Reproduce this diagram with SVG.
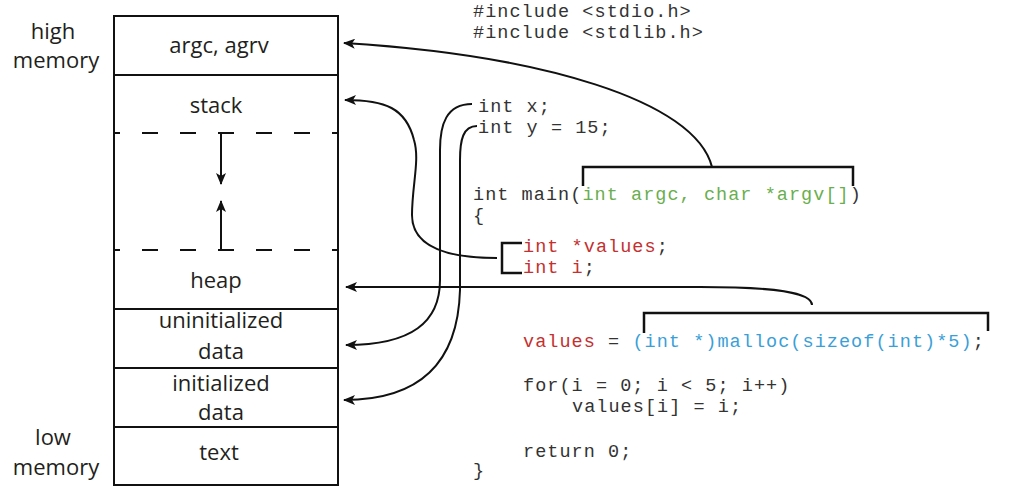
<svg xmlns="http://www.w3.org/2000/svg" width="1016" height="498" viewBox="0 0 1016 498">
<style>
.lbl{font-family:"Open Sans","Liberation Sans",sans-serif;font-size:22px;fill:#231f20;text-anchor:middle}
.code{font-family:"Liberation Mono","DejaVu Sans Mono",monospace;font-size:18.5px;letter-spacing:1.05px;fill:#333;white-space:pre}
.g{fill:#6aae4f}
.r{fill:#c4302f}
.b{fill:#3a9fd8}
.ln{fill:none;stroke:#111;stroke-width:2}
.box{fill:#fff;stroke:#111;stroke-width:2}
.dash{stroke:#111;stroke-width:2;stroke-dasharray:16 22;stroke-dashoffset:10}
.br{fill:none;stroke:#111;stroke-width:2.5}
</style>
<defs>
<marker id="ah" viewBox="0 0 12 10" refX="11" refY="5" markerWidth="12" markerHeight="10" markerUnits="userSpaceOnUse" orient="auto">
<path d="M0,0 L12,5 L0,10 L3,5 Z" fill="#111"/>
</marker>
</defs>
<rect width="1016" height="498" fill="#fff"/>

<g id="side-labels">
<text class="lbl" x="53" y="39">high</text>
<text class="lbl" x="56" y="68">memory</text>
<text class="lbl" x="53" y="445">low</text>
<text class="lbl" x="56" y="475">memory</text>
</g>

<g id="memory">
<rect class="box" x="114" y="16" width="224" height="469"/>
<g id="seg-args"><line class="ln" x1="114" y1="75" x2="338" y2="75"/><text class="lbl" x="219" y="53">argc, agrv</text></g>
<g id="seg-stack"><text class="lbl" x="216" y="113">stack</text><line class="dash" x1="114" y1="133" x2="338" y2="133"/></g>
<g id="seg-free">
<line class="ln" x1="221" y1="133" x2="221" y2="184" marker-end="url(#ah)"/>
<line class="ln" x1="221" y1="250" x2="221" y2="201" marker-end="url(#ah)"/>
</g>
<g id="seg-heap"><line class="dash" x1="114" y1="250" x2="338" y2="250"/><text class="lbl" x="216" y="288">heap</text><line class="ln" x1="114" y1="309" x2="338" y2="309"/></g>
<g id="seg-bss"><text class="lbl" x="221" y="328">uninitialized</text><text class="lbl" x="221" y="359">data</text><line class="ln" x1="114" y1="368" x2="338" y2="368"/></g>
<g id="seg-data"><text class="lbl" x="221" y="391">initialized</text><text class="lbl" x="221" y="420">data</text><line class="ln" x1="114" y1="427" x2="338" y2="427"/></g>
<g id="seg-text"><text class="lbl" x="219" y="460">text</text></g>
</g>

<g id="code">
<text class="code" x="473" y="17">#include &lt;stdio.h&gt;</text>
<text class="code" x="473" y="38">#include &lt;stdlib.h&gt;</text>
<text class="code" x="478" y="112">int x;</text>
<text class="code" x="478" y="133">int y = 15;</text>
<text class="code" x="473" y="200">int main(<tspan class="g">int argc, char *argv[]</tspan>)</text>
<text class="code" x="473" y="221">{</text>
<text class="code" x="523" y="252"><tspan class="r">int *values</tspan>;</text>
<text class="code" x="523" y="273"><tspan class="r">int i</tspan>;</text>
<text class="code" x="523" y="347"><tspan class="r">values</tspan> = <tspan class="b">(int *)malloc(sizeof(int)*5)</tspan>;</text>
<text class="code" x="523" y="391">for(i = 0; i &lt; 5; i++)</text>
<text class="code" x="572" y="412">values[i] = i;</text>
<text class="code" x="523" y="457">return 0;</text>
<text class="code" x="473" y="476">}</text>
</g>

<g id="brackets">
<path class="br" d="M583,186 V167 H853 V186"/>
<path class="br" d="M522,243 H502 V273 H522"/>
<path class="br" d="M644,333 V313 H988 V331"/>
</g>

<g id="connectors">
<path class="ln" d="M712,167 C695,100 540,55 344,43" marker-end="url(#ah)"/>
<path class="ln" d="M497,258 C442,258 412,245 412,215 C412,185 420,160 414,140 C406,108 385,100 345,100" marker-end="url(#ah)"/>
<path class="ln" d="M472,104 C446,104 440,125 440,150 L440,280 C440,322 412,345 346,345" marker-end="url(#ah)"/>
<path class="ln" d="M477,126 C463,126 460,140 460,160 L460,290 C458,362 420,400 344,400" marker-end="url(#ah)"/>
<path class="ln" d="M812,305 C812,292 775,287 700,287 L346,287" marker-end="url(#ah)"/>
</g>
</svg>
